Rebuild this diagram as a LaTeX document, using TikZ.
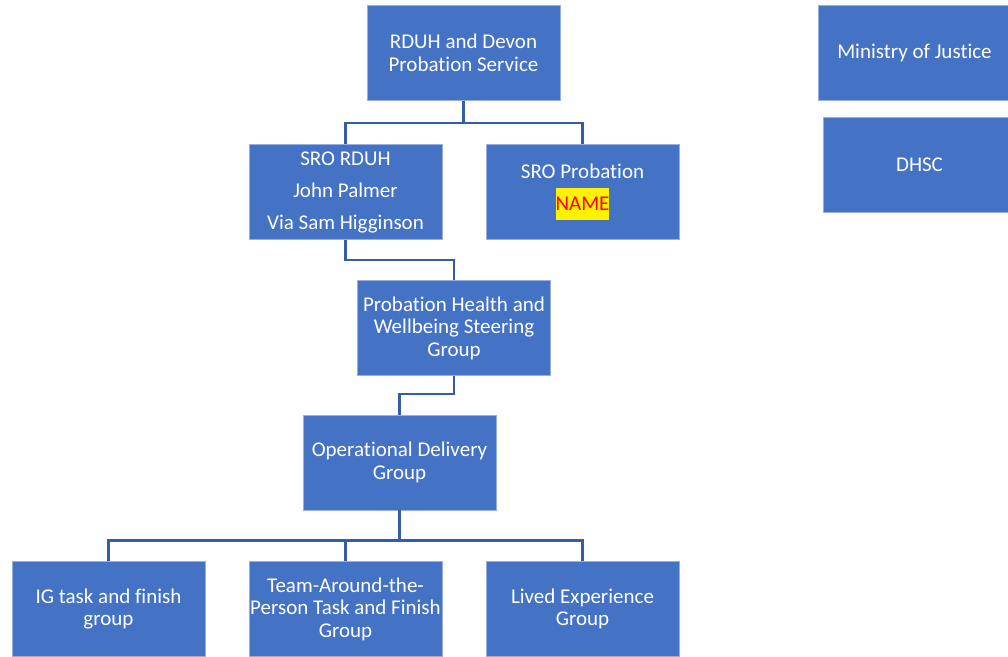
\documentclass[tikz,border=0pt]{standalone}
\usepackage{fontspec}
\setmainfont{Carlito}[Ligatures=NoCommon]
\definecolor{boxblue}{HTML}{4472C4}
\definecolor{boxedge}{RGB}{150,175,222}
\definecolor{connblue}{RGB}{52,92,168}
\begin{document}
\begin{tikzpicture}[x=1bp,y=-1bp,
  box/.style={rectangle, fill=boxblue, draw=boxedge, line width=0.8bp,
    minimum width=193bp, minimum height=95bp, inner sep=0pt, text=white,
    align=center, font=\fontsize{21bp}{22.5bp}\selectfont},
  wide/.style={font=\fontsize{21bp}{32bp}\selectfont},
  conn/.style={draw=connblue, line width=2.4bp}]
\useasboundingbox (0,0) rectangle (1008,657);
\clip (0,0) rectangle (1008,657);
\fill[white] (0,0) rectangle (1008,657);
% nodes
\node[box] (top) at (463.5,53) {RDUH and Devon\\Probation Service};
\node[box, wide] (sro1) at (345.5,192) {SRO RDUH\\John Palmer\\Via Sam Higginson};
\node[box, wide] (sro2) at (582.5,192) {SRO Probation\\{\setlength{\fboxsep}{0pt}\colorbox{yellow}{\strut\textcolor{red}{NAME}}}};
\node[box] (moj) at (914.5,53) {Ministry of Justice};
\node[box] (dhsc) at (919.5,164.5) {DHSC};
\node[box] (phw) at (454,328) {Probation Health and\\Wellbeing Steering\\Group};
\node[box] (odg) at (399.5,462.5) {Operational Delivery\\Group};
\node[box] (ig) at (108.5,609) {IG task and finish\\group};
\node[box] (tap) at (345.5,609) {Team-Around-the-\\Person Task and Finish\\Group};
\node[box] (le) at (582.5,609) {Lived Experience\\Group};
% connectors
\draw[conn] (top.south) -- ++(0,22) -| (sro1.north);
\draw[conn] (top.south) ++(0,22) -| (sro2.north);
\draw[conn] (sro1.south) -- ++(0,20) -| (phw.north);
\draw[conn] (phw.south) -- ++(0,18) -| (odg.north);
\draw[conn] (odg.south) -- ++(0,30) -| (ig.north);
\draw[conn] (odg.south) ++(0,30) -| (tap.north);
\draw[conn] (odg.south) ++(0,30) -| (le.north);
\end{tikzpicture}
\end{document}
